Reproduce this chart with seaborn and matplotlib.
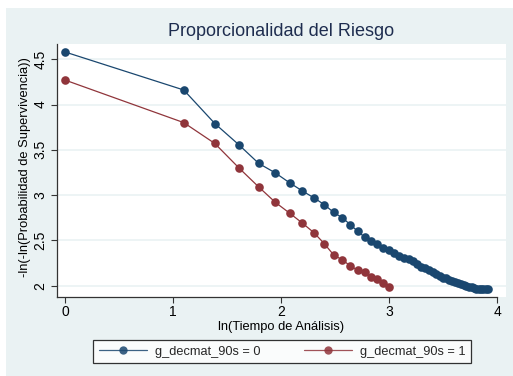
import numpy as np
import pandas as pd
import matplotlib
matplotlib.use("Agg")
import matplotlib.pyplot as plt
from matplotlib.patches import Rectangle
from matplotlib.lines import Line2D
import seaborn as sns

# ---- data ----
ln_time_0 = [0.000, 1.099, 1.386, 1.609, 1.792, 1.946, 2.079, 2.197, 2.303, 2.398,
             2.485, 2.565, 2.639, 2.708, 2.773, 2.833, 2.890, 2.944, 2.996, 3.045,
             3.091, 3.135, 3.178, 3.219, 3.258, 3.296, 3.332, 3.367, 3.401, 3.434,
             3.466, 3.497, 3.526, 3.555, 3.584, 3.611, 3.638, 3.664, 3.689, 3.714,
             3.738, 3.761, 3.784, 3.807, 3.829, 3.850, 3.871, 3.892, 3.912]
lnln_0 = [4.58, 4.16, 3.79, 3.555, 3.35, 3.245, 3.135, 3.045, 2.97, 2.895,
          2.81, 2.75, 2.675, 2.60, 2.535, 2.495, 2.457, 2.42, 2.395, 2.36,
          2.33, 2.31, 2.29, 2.27, 2.24, 2.21, 2.19, 2.17, 2.15, 2.13,
          2.11, 2.09, 2.08, 2.06, 2.05, 2.04, 2.03, 2.02, 2.01, 2.00,
          1.99, 1.98, 1.97, 1.965, 1.96, 1.96, 1.96, 1.96, 1.96]

ln_time_1 = [0.000, 1.099, 1.386, 1.609, 1.792, 1.946, 2.079, 2.197, 2.303, 2.398,
             2.485, 2.565, 2.639, 2.708, 2.773, 2.833, 2.890, 2.944, 2.996]
lnln_1 = [4.27, 3.80, 3.57, 3.30, 3.09, 2.92, 2.80, 2.69, 2.585, 2.465,
          2.34, 2.285, 2.22, 2.17, 2.15, 2.10, 2.07, 2.035, 1.99]

groups = ["g_decmat_90s = 0", "g_decmat_90s = 1"]
x_ticks = [0, 1, 2, 3, 4]
y_ticks = [2, 2.5, 3, 3.5, 4, 4.5]
y_tick_labels = ["2", "2.5", "3", "3.5", "4", "4.5"]

title = "Proporcionalidad del Riesgo"
x_label = "ln(Tiempo de Análisis)"
y_label = "-ln(-ln(Probabilidad de Supervivencia))"

colors = ["#1A476F", "#90353B"]

df = pd.DataFrame({
    "x": ln_time_0 + ln_time_1,
    "y": lnln_0 + lnln_1,
    "g": [groups[0]] * len(ln_time_0) + [groups[1]] * len(ln_time_1),
})

# ---- figure ----
sns.set_theme(style="white")
plt.rcParams["font.family"] = ["Liberation Sans", "DejaVu Sans"]

W, H = 513, 376
fig = plt.figure(figsize=(W / 100, H / 100), dpi=100, facecolor="white")
fig.patches.append(Rectangle((6 / W, 0), 1 - 6 / W, (H - 8) / H,
                             transform=fig.transFigure, facecolor="#EAF2F3",
                             edgecolor="none", zorder=-10))

L, R, T, B = 57, 506, 44, 297
ax = fig.add_axes([L / W, (H - B) / H, (R - L) / W, (B - T) / H])
ax.set_facecolor("white")

sns.lineplot(data=df, x="x", y="y", hue="g", palette=colors, estimator=None,
             sort=False, marker="o", markersize=6.2, markeredgewidth=0,
             linewidth=0.9, legend=False, ax=ax)

ax.set_xlim(-0.074, 4.08)
ax.set_ylim(1.875, 4.668)
ax.set_xticks(x_ticks)
ax.set_yticks(y_ticks)
ax.set_yticklabels(y_tick_labels, rotation=90, va="center")
ax.grid(axis="y", color="#EAF2F3", linewidth=1.2)
ax.grid(axis="x", visible=False)
ax.set_axisbelow(True)

for s in ["top", "right"]:
    ax.spines[s].set_visible(False)
for s in ["left", "bottom"]:
    ax.spines[s].set_color("#333333")
    ax.spines[s].set_linewidth(0.9)
ax.spines["bottom"].set_bounds(-0.074, 4.0)

ax.tick_params(axis="both", direction="out", length=4, width=0.8,
               color="#333333", labelsize=10, labelcolor="black")
ax.tick_params(axis="x", bottom=True, pad=2)
ax.tick_params(axis="y", left=True, pad=3)

ax.set_xlabel("")
ax.set_ylabel("")
fig.text(281.5 / W, (H - 31) / H, title, ha="center", va="center",
         fontsize=13, color="#1E2D4F")
fig.text(281.5 / W, (H - 327) / H, x_label, ha="center", va="center",
         fontsize=9.3, color="black")
fig.text(25 / W, (H - 167) / H, y_label, ha="center", va="center",
         rotation=90, fontsize=9.3, color="black")

handles = [Line2D([0], [0], color=c, marker="o", markersize=6,
                  markeredgewidth=0, linewidth=0.9, alpha=0.85) for c in colors]
leg = fig.legend(handles, groups, loc="center", ncol=2,
                 bbox_to_anchor=(282 / W, (H - 351.5) / H),
                 frameon=True, fancybox=False, fontsize=9.2,
                 handlelength=3.8, columnspacing=3.4, handletextpad=0.6,
                 borderpad=0.45)
leg.get_frame().set_edgecolor("black")
leg.get_frame().set_linewidth(0.9)
leg.get_frame().set_facecolor("white")

fig.savefig("out.png", dpi=100, facecolor=fig.get_facecolor())
